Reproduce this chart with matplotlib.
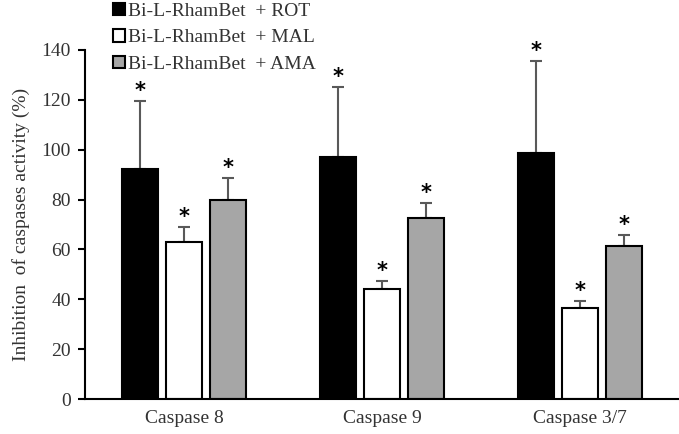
import matplotlib.pyplot as plt
import numpy as np

plt.rcParams['font.family'] = ['Liberation Serif', 'DejaVu Serif']

# Data
categories = ["Caspase 8", "Caspase 9", "Caspase 3/7"]
series_names = ["Bi-L-RhamBet  + ROT", "Bi-L-RhamBet  + MAL", "Bi-L-RhamBet  + AMA"]
rot_vals = [92.3, 97.0, 98.8]
rot_err = [27.2, 28.0, 36.8]
mal_vals = [63.0, 44.0, 36.6]
mal_err = [6.0, 3.3, 2.6]
ama_vals = [79.8, 72.6, 61.5]
ama_err = [8.8, 6.0, 4.2]

fig = plt.figure(figsize=(6.79, 4.34), dpi=100)
ax = fig.add_axes([0.125, 0.0806, 0.875, 0.8044])

x = np.arange(len(categories))
width = 0.18
offset = 0.222
series = [
    (rot_vals, rot_err, "black"),
    (mal_vals, mal_err, "white"),
    (ama_vals, ama_err, "#a6a6a6"),
]

for i, (vals, errs, color) in enumerate(series):
    pos = x + (i - 1) * offset
    ax.bar(pos, vals, width, color=color, edgecolor="black", linewidth=1.5,
           label=series_names[i], zorder=2)
    ax.errorbar(pos, vals, yerr=[np.zeros(len(vals)), errs], fmt="none",
                ecolor="#595959", elinewidth=1.5, capsize=4, capthick=1.5, zorder=1)
    for p, v, e in zip(pos, vals, errs):
        ax.text(p, v + e, "*", ha="center", va="bottom", fontsize=15,
                fontweight="bold", family="DejaVu Sans")

ax.set_xlim(-0.5, 2.5)
ax.set_ylim(0, 140)
ax.set_yticks(range(0, 141, 20))
ax.set_xticks(x)
ax.set_xticklabels(categories)
ax.tick_params(axis="x", length=0, pad=8, labelsize=14, colors="#333333")
ax.tick_params(axis="y", length=5, width=1.5, direction="out", labelsize=14,
               labelcolor="#333333", pad=5)
for s in ["top", "right"]:
    ax.spines[s].set_visible(False)
ax.spines["left"].set_linewidth(1.5)
ax.spines["bottom"].set_linewidth(1.5)
ax.set_ylabel("Inhibition  of caspases activity (%)", fontsize=14, color="#333333",
              labelpad=8)

leg = fig.legend(loc="upper left", bbox_to_anchor=(0.155, 1.012), frameon=False,
                 fontsize=14, handlelength=0.6, handleheight=0.6, handletextpad=0.15,
                 labelspacing=0.5, borderaxespad=0)
for t in leg.get_texts():
    t.set_color("#333333")

fig.savefig("out.png", dpi=100)
